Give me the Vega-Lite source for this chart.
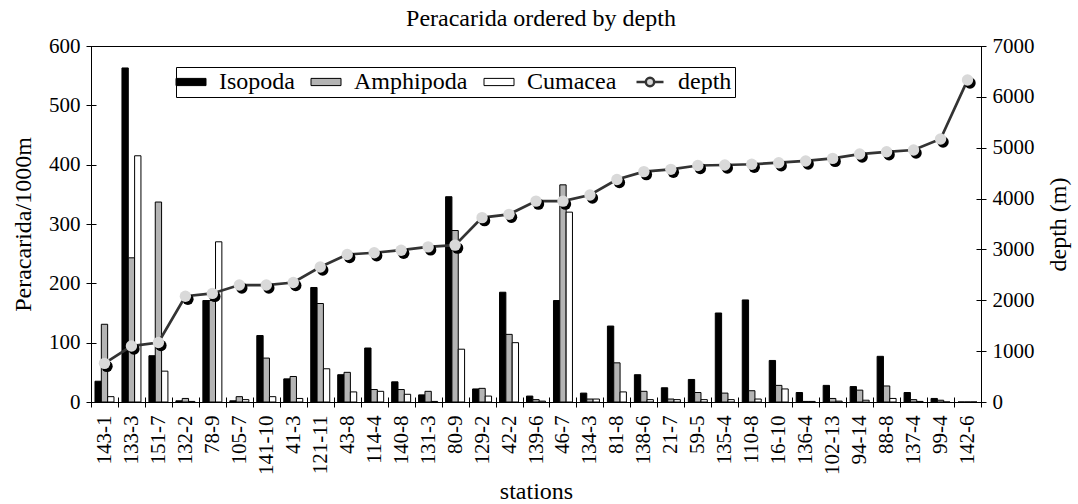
{
  "$schema": "https://vega.github.io/schema/vega-lite/v6.json",
  "width": 890,
  "height": 356,
  "autosize": {"type": "none"},
  "padding": {"left": 91, "top": 46, "right": 97, "bottom": 102},
  "title": {"text": "Peracarida ordered by depth", "fontSize": 24, "fontWeight": "normal", "anchor": "middle", "baseline": "alphabetic", "offset": -15, "dx": 5, "color": "black", "frame": "group"},
  "data": {"values": [
    {"station": "143-1", "Isopoda": 35, "Amphipoda": 131, "Cumacea": 9, "depth": 760},
    {"station": "133-3", "Isopoda": 563, "Amphipoda": 243, "Cumacea": 415, "depth": 1100},
    {"station": "151-7", "Isopoda": 78, "Amphipoda": 337, "Cumacea": 52, "depth": 1170},
    {"station": "132-2", "Isopoda": 2, "Amphipoda": 6, "Cumacea": 1, "depth": 2080},
    {"station": "78-9", "Isopoda": 171, "Amphipoda": 171, "Cumacea": 270, "depth": 2135},
    {"station": "105-7", "Isopoda": 2, "Amphipoda": 9, "Cumacea": 4, "depth": 2300},
    {"station": "141-10", "Isopoda": 112, "Amphipoda": 74, "Cumacea": 9, "depth": 2300},
    {"station": "41-3", "Isopoda": 39, "Amphipoda": 43, "Cumacea": 6, "depth": 2350},
    {"station": "121-11", "Isopoda": 193, "Amphipoda": 166, "Cumacea": 56, "depth": 2655},
    {"station": "43-8", "Isopoda": 46, "Amphipoda": 50, "Cumacea": 17, "depth": 2900},
    {"station": "114-4", "Isopoda": 91, "Amphipoda": 21, "Cumacea": 18, "depth": 2935},
    {"station": "140-8", "Isopoda": 34, "Amphipoda": 21, "Cumacea": 13, "depth": 2985},
    {"station": "131-3", "Isopoda": 12, "Amphipoda": 18, "Cumacea": 1, "depth": 3050},
    {"station": "80-9", "Isopoda": 346, "Amphipoda": 289, "Cumacea": 89, "depth": 3085},
    {"station": "129-2", "Isopoda": 22, "Amphipoda": 23, "Cumacea": 10, "depth": 3625},
    {"station": "42-2", "Isopoda": 185, "Amphipoda": 114, "Cumacea": 100, "depth": 3690},
    {"station": "139-6", "Isopoda": 10, "Amphipoda": 4, "Cumacea": 1.5, "depth": 3950},
    {"station": "46-7", "Isopoda": 171, "Amphipoda": 366, "Cumacea": 320, "depth": 3950},
    {"station": "134-3", "Isopoda": 15, "Amphipoda": 5, "Cumacea": 5, "depth": 4070},
    {"station": "81-8", "Isopoda": 128, "Amphipoda": 66, "Cumacea": 17, "depth": 4375},
    {"station": "138-6", "Isopoda": 46, "Amphipoda": 18, "Cumacea": 4, "depth": 4530},
    {"station": "21-7", "Isopoda": 24, "Amphipoda": 5, "Cumacea": 4, "depth": 4575},
    {"station": "59-5", "Isopoda": 38, "Amphipoda": 16, "Cumacea": 4, "depth": 4650},
    {"station": "135-4", "Isopoda": 150, "Amphipoda": 15, "Cumacea": 4, "depth": 4660},
    {"station": "110-8", "Isopoda": 172, "Amphipoda": 19, "Cumacea": 5, "depth": 4675},
    {"station": "16-10", "Isopoda": 70, "Amphipoda": 28, "Cumacea": 22, "depth": 4705},
    {"station": "136-4", "Isopoda": 16, "Amphipoda": 1, "Cumacea": 1, "depth": 4740},
    {"station": "102-13", "Isopoda": 28, "Amphipoda": 6, "Cumacea": 1.5, "depth": 4790},
    {"station": "94-14", "Isopoda": 26, "Amphipoda": 20, "Cumacea": 3, "depth": 4875},
    {"station": "88-8", "Isopoda": 77, "Amphipoda": 27, "Cumacea": 6, "depth": 4920},
    {"station": "137-4", "Isopoda": 16, "Amphipoda": 4, "Cumacea": 1, "depth": 4955},
    {"station": "99-4", "Isopoda": 6, "Amphipoda": 3, "Cumacea": 0, "depth": 5170},
    {"station": "142-6", "Isopoda": 0, "Amphipoda": 0, "Cumacea": 0, "depth": 6330}
  ]},
  "encoding": {
    "x": {
      "field": "station", "type": "nominal",
      "scale": {"domain": ["143-1","133-3","151-7","132-2","78-9","105-7","141-10","41-3","121-11","43-8","114-4","140-8","131-3","80-9","129-2","42-2","139-6","46-7","134-3","81-8","138-6","21-7","59-5","135-4","110-8","16-10","136-4","102-13","94-14","88-8","137-4","99-4","142-6"], "paddingInner": 0, "paddingOuter": 0},
      "axis": {"title": "stations", "tickBand": "extent", "labelAngle": -90, "offset": -5, "tickSize": 10, "domain": false, "labelPadding": 8, "titlePadding": 5, "labelFontSize": 21, "titleFontSize": 24, "grid": false}
    }
  },
  "layer": [
    {
      "transform": [{"fold": ["Isopoda", "Amphipoda", "Cumacea"], "as": ["series", "value"]}],
      "mark": {"type": "bar", "stroke": "black", "strokeWidth": 1},
      "encoding": {
        "xOffset": {"field": "series", "type": "nominal", "scale": {"domain": ["Isopoda", "Amphipoda", "Cumacea"], "paddingInner": 0, "paddingOuter": 0.63}},
        "y": {"field": "value", "type": "quantitative", "scale": {"domain": [0, 600], "nice": false},
          "axis": {"title": "Peracarida/1000m", "values": [0,100,200,300,400,500,600], "format": "d", "offset": -5, "tickSize": 10, "domain": false, "labelPadding": 6, "titlePadding": 13, "labelFontSize": 21, "titleFontSize": 24, "grid": false}},
        "fill": {"field": "series", "type": "nominal",
          "scale": {"domain": ["Isopoda", "Amphipoda", "Cumacea", "depth"], "range": ["black", "#b4b4b4", "white", "#d9d9d9"]},
          "legend": {"title": null, "orient": "none", "legendX": 85, "legendY": 21, "direction": "horizontal", "columns": 4,
            "labelFontSize": 24, "labelColor": "black", "symbolSize": 900, "labelOffset": 16, "columnPadding": 14, "padding": 3,
            "strokeColor": "black", "fillColor": "white", "symbolStrokeColor": "black", "symbolStrokeWidth": 1, "symbolOpacity": 1,
            "encode": {"symbols": {"update": {
              "shape": {"signal": "datum.value === 'depth' ? 'M-0.9,0H-0.28M0.28,0H0.9M-0.28,0A0.28,0.28,0,1,1,0.28,0A0.28,0.28,0,1,1,-0.28,0Z' : 'M-1,-0.24H1V0.24H-1Z'"},
              "stroke": {"signal": "datum.value === 'depth' ? '#333333' : 'black'"},
              "strokeWidth": {"signal": "datum.value === 'depth' ? 2.5 : 1"}
            }}}
          }}
      }
    },
    {
      "encoding": {
        "y": {"field": "depth", "type": "quantitative", "scale": {"domain": [0, 7000], "nice": false},
          "axis": {"orient": "right", "title": "depth (m)", "values": [0,1000,2000,3000,4000,5000,6000,7000], "format": "d", "offset": -5, "tickSize": 10, "domain": false, "labelPadding": 6, "titlePadding": 12, "titleAngle": 270, "titleBaseline": "top", "labelFontSize": 21, "titleFontSize": 24, "grid": false}}
      },
      "layer": [
        {"mark": {"type": "line", "color": "#333333", "strokeWidth": 2.7}, "encoding": {"order": {"value": null}}},
        {"mark": {"type": "point", "filled": true, "shape": "circle", "size": 130, "color": "black", "opacity": 1, "xOffset": 2.5, "yOffset": 3}},
        {"mark": {"type": "point", "filled": true, "shape": "circle", "size": 130, "color": "#d9d9d9", "opacity": 1}}
      ]
    }
  ],
  "resolve": {"scale": {"y": "independent"}},
  "config": {
    "font": "Liberation Serif, Times New Roman, serif",
    "view": {"stroke": "black", "strokeWidth": 1},
    "title": {"font": "Liberation Serif, Times New Roman, serif"},
    "legend": {"labelFont": "Liberation Serif, Times New Roman, serif"},
    "axis": {"labelColor": "black", "titleColor": "black", "tickColor": "black", "tickWidth": 1, "labelFont": "Liberation Serif, Times New Roman, serif", "titleFont": "Liberation Serif, Times New Roman, serif", "titleFontWeight": "normal"}
  }
}
